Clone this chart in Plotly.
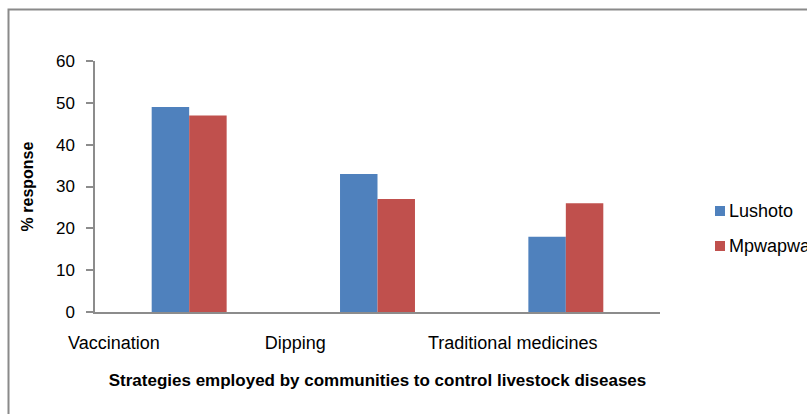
import plotly.graph_objects as go

# Survey results: % of respondents using each disease-control strategy
strategies = ["Vaccination", "Dipping", "Traditional medicines"]
lushoto = [49, 33, 18]
mpwapwa = [47, 27, 26]
series_names = ["Lushoto", "Mpwapwa"]
series_colors = ["#4F81BD", "#C0504D"]

# Category label positions along the x axis (category index units)
label_positions = [-0.40, 0.563, 1.718]
y_ticks = [0, 10, 20, 30, 40, 50, 60]

W, H = 807, 414
M_L, M_R, M_T, M_B = 95, 147, 61, 102
PW, PH = W - M_L - M_R, H - M_T - M_B


def px_x(px):
    return (px - M_L) / PW


def px_y(py):
    return (H - M_B - py) / PH


FONT = "Liberation Sans, Arial, sans-serif"
AXIS_GREY = "#8C8C8C"

fig = go.Figure()
x_idx = list(range(len(strategies)))
for name, vals, col in zip(series_names, [lushoto, mpwapwa], series_colors):
    fig.add_trace(go.Bar(
        x=x_idx, y=vals, name=name, marker=dict(color=col, line=dict(width=0)),
        showlegend=False,
    ))

shapes = [
    # outer chart frame
    dict(type="rect", xref="paper", yref="paper",
         x0=px_x(8.5), x1=px_x(812), y0=px_y(425), y1=px_y(9.5),
         line=dict(color="#8A8A8A", width=2), fillcolor="rgba(0,0,0,0)", layer="below"),
]
annotations = []

# legend entries
legend_rows = [211, 246]
for name, col, cy in zip(series_names, series_colors, legend_rows):
    shapes.append(dict(type="rect", xref="paper", yref="paper",
                       x0=px_x(715), x1=px_x(725), y0=px_y(cy + 5), y1=px_y(cy - 5),
                       line=dict(width=0), fillcolor=col))
    annotations.append(dict(text=name, xref="paper", yref="paper",
                            x=px_x(727), y=px_y(cy), xanchor="left", yanchor="middle",
                            showarrow=False, font=dict(family=FONT, size=18, color="#000")))

fig.update_layout(
    width=W, height=H,
    margin=dict(l=M_L, r=M_R, t=M_T, b=M_B, autoexpand=False),
    paper_bgcolor="white", plot_bgcolor="white",
    barmode="group", bargap=0.602, bargroupgap=0,
    shapes=shapes, annotations=annotations,
    showlegend=False,
    xaxis=dict(
        range=[-0.5, 2.5], tickmode="array", tickvals=label_positions, ticktext=strategies,
        ticks="", showgrid=False, zeroline=False, showline=True,
        linecolor=AXIS_GREY, linewidth=1.5,
        tickfont=dict(family=FONT, size=18, color="#000"),
        ticklabelstandoff=14,
        title=dict(text="<b>Strategies employed by communities to control livestock diseases</b>",
                   font=dict(family=FONT, size=17, color="#000"), standoff=22),
    ),
    yaxis=dict(
        range=[0, 60], tickmode="array", tickvals=y_ticks,
        ticks="outside", ticklen=7, tickcolor=AXIS_GREY, tickwidth=1.5,
        showgrid=False, zeroline=False, showline=True,
        linecolor=AXIS_GREY, linewidth=1.5,
        tickfont=dict(family=FONT, size=17, color="#000"),
        ticklabelstandoff=8,
        title=dict(text="<b>% response</b>", font=dict(family=FONT, size=16, color="#000"),
                   standoff=18),
    ),
)

fig.write_html("out.html")
